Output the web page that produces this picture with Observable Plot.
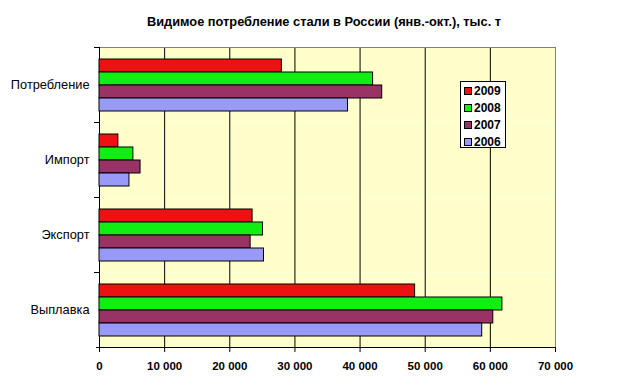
<!DOCTYPE html>
<html><head><meta charset="utf-8">
<script src="https://cdn.jsdelivr.net/npm/d3@7"></script>
<script src="https://cdn.jsdelivr.net/npm/@observablehq/plot@0.6"></script>
<style>
body{margin:0;background:#fff;font-family:"Liberation Sans",Arial,sans-serif;}
#wrap{position:relative;width:623px;height:387px;}
#title{height:36px;line-height:43px;font-weight:bold;font-size:12.8px;padding-left:25px;text-align:center;width:598px;}
#legend{position:absolute;left:460px;top:81px;width:44px;height:65px;border:1px solid #000;background:#fff;}
.row{position:absolute;left:3px;height:14px;font-weight:bold;font-size:12px;line-height:14px;}
.sw{display:inline-block;width:6px;height:6px;border:1px solid #000;margin-right:2px;vertical-align:0px;}
</style></head>
<body><div id="wrap"><div id="title">Видимое потребление стали в России (янв.-окт.), тыс. т</div><div id="chart"></div><div id="legend"></div></div>
<script>
const categories = ["Потребление","Импорт","Экспорт","Выплавка"];
const years = ["2009","2008","2007","2006"];
const colors = ["#EE1111","#11EE11","#993366","#9999F8"];
const v2009 = [28000, 2900, 23500, 48450];
const v2008 = [42000, 5200, 25100, 61850];
const v2007 = [43400, 6300, 23200, 60450];
const v2006 = [38150, 4600, 25250, 58750];
const xTicks = [0,10000,20000,30000,40000,50000,60000,70000];
const gridTicks = [10000,20000,30000,40000,50000,60000];

const series = {"2009":v2009,"2008":v2008,"2007":v2007,"2006":v2006};
const data = [];
for (const y of years) categories.forEach((c,i)=>data.push({cat:c, year:y, value:series[y][i]}));

const fmt = d => d3.format(",")(d).replace(/,/g," ");

const W = 623, ML = 99, MR = 68;
const plot = Plot.plot({
  width: W, height: 351,
  marginLeft: ML, marginRight: MR, marginTop: 10, marginBottom: 39,
  style: {fontFamily: '"Liberation Sans", Arial, sans-serif', color: "#000", background: "transparent"},
  x: {domain: [0,70000]},
  y: {domain: years, paddingInner: 0, paddingOuter: 0.745, axis: null},
  fy: {domain: categories, padding: 0},
  color: {domain: years, range: colors},
  marks: [
    Plot.frame({fill: "#FFFFCC", stroke: "none"}),
    Plot.ruleX(gridTicks, {stroke: "#000", strokeWidth: 1}),
    Plot.frame({facet: "super", stroke: "#808080", fill: "none"}),
    Plot.ruleX([0], {stroke: "#000"}),
    Plot.frame({anchor: "top", insetLeft: -5, insetRight: W - ML - MR, stroke: "#000"}),
    Plot.barX(data, {x: "value", y: "year", fy: "cat", fill: "year", stroke: "#000", strokeWidth: 1}),
    Plot.frame({facet: "super", anchor: "bottom", insetLeft: -3, stroke: "#000"}),
    Plot.axisX({ticks: xTicks, tickFormat: fmt, tickSize: 5, tickPadding: 9, label: null, fontSize: 11.5, fontWeight: "bold", facetAnchor: "bottom"}),
    Plot.axisFy({anchor: "left", tickSize: 0, tickPadding: 10, label: null, fontSize: 12.8})
  ]
});
document.getElementById("chart").appendChild(plot);

const lg = document.getElementById("legend");
years.forEach((y,i)=>{
  const r = document.createElement("div");
  r.className = "row"; r.style.top = (2 + i*16.9) + "px";
  r.innerHTML = `<span class="sw" style="background:${colors[i]}"></span>${y}`;
  lg.appendChild(r);
});
</script></body></html>
